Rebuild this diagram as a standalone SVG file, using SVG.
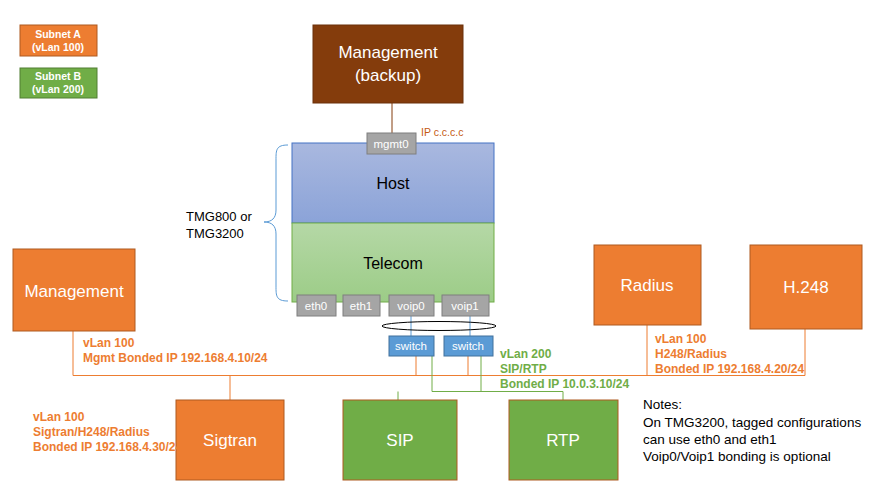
<svg xmlns="http://www.w3.org/2000/svg" width="869" height="500" viewBox="0 0 869 500">
<defs>
<linearGradient id="gh" x1="0" y1="0" x2="0" y2="1"><stop offset="0" stop-color="#a9b8df"/><stop offset="1" stop-color="#8ba3d8"/></linearGradient>
<linearGradient id="gt" x1="0" y1="0" x2="0" y2="1"><stop offset="0" stop-color="#b5d8a6"/><stop offset="1" stop-color="#9ccc87"/></linearGradient>
</defs>
<style>
text{font-family:"Liberation Sans",Arial,sans-serif}
.or{fill:#ed7d31;stroke:#ae5a21;stroke-width:1}
.gr{fill:#70ad47;stroke:#ae5a21;stroke-width:1}
.port{fill:#a5a5a5;stroke:#7f7f7f;stroke-width:1}
.sw{fill:#5b9bd5;stroke:#41719c;stroke-width:1}
.big{fill:#fff;font-size:17px;text-anchor:middle}
.pt{fill:#fff;font-size:11.5px;text-anchor:middle}
.lo{fill:#ed7d31;font-size:12px;font-weight:bold}
.lg{fill:#70ad47;font-size:12px;font-weight:bold}
.leg{fill:#fff;font-size:10.5px;font-weight:bold;text-anchor:middle}
.ol{stroke:#ed7d31;fill:none}
.gl{stroke:#70ad47;fill:none}
</style>
<g id="legendA"><rect x="20" y="25" width="77" height="31" class="or"/><text class="leg" x="58" y="38">Subnet A</text><text class="leg" x="58" y="51">(vLan 100)</text></g>
<g id="legendB"><rect x="20" y="68" width="77" height="30" fill="#70ad47" stroke="#507e32"/><text class="leg" x="58" y="80">Subnet B</text><text class="leg" x="58" y="93">(vLan 200)</text></g>
<g id="connectors">
<line x1="392" y1="103" x2="392" y2="133" stroke="#843c0c"/>
<path class="ol" d="M73 331V375.5H805M230 375.5V400M416 356V375.5M468 356V375.5M647 325V375.5M805 329V375.5"/>
<path class="gl" d="M432 356V391.5H563V400M481 356V391.5M398 391.5V400"/>
<line x1="411" y1="316" x2="411" y2="336" stroke="#5b9bd5"/>
<line x1="470" y1="316" x2="470" y2="336" stroke="#5b9bd5"/>
<ellipse cx="439" cy="326" rx="57" ry="4.5" fill="none" stroke="#000"/>
<path d="M288 145C276 145 276 150 276 160V210C276 218 272 222 264 222C272 222 276 226 276 234V286C276 296 276 301 288 301" fill="none" stroke="#5b9bd5"/>
</g>
<g id="backup"><rect x="313" y="25" width="150" height="78" fill="#843c0c" stroke="#6b300a"/><text class="big" x="388" y="58">Management</text><text class="big" x="388" y="81">(backup)</text></g>
<g id="tmg">
<rect x="292" y="143" width="202" height="80" fill="url(#gh)" stroke="#4472c4"/>
<rect x="292" y="223" width="202" height="79" fill="url(#gt)" stroke="#70ad47"/>
<text x="393" y="189" font-size="16" text-anchor="middle" fill="#000">Host</text>
<text x="393" y="269" font-size="16" text-anchor="middle" fill="#000">Telecom</text>
<text x="186" y="221" font-size="13" fill="#000">TMG800  or</text>
<text x="186" y="238" font-size="13" fill="#000">TMG3200</text>
</g>
<g id="mgmt0"><rect x="367" y="133" width="49" height="21" class="port"/><text class="pt" x="391" y="148">mgmt0</text><text x="421" y="136" font-size="10.5" fill="#c55a11">IP c.c.c.c</text></g>
<g id="eth0"><rect x="297" y="295" width="39" height="21" class="port"/><text class="pt" x="316" y="310">eth0</text></g>
<g id="eth1"><rect x="343" y="295" width="37" height="21" class="port"/><text class="pt" x="361" y="310">eth1</text></g>
<g id="voip0"><rect x="389" y="295" width="45" height="21" class="port"/><text class="pt" x="411" y="310">voip0</text></g>
<g id="voip1"><rect x="442" y="295" width="47" height="21" class="port"/><text class="pt" x="465" y="310">voip1</text></g>
<g id="switch1"><rect x="389" y="336" width="45" height="20" class="sw"/><text class="pt" x="411" y="350">switch</text></g>
<g id="switch2"><rect x="444" y="336" width="49" height="20" class="sw"/><text class="pt" x="468" y="350">switch</text></g>
<g id="management"><rect x="13" y="249" width="122" height="82" class="or"/><text class="big" x="74" y="297">Management</text></g>
<g id="radius"><rect x="594" y="245" width="107" height="80" class="or"/><text class="big" x="647" y="291">Radius</text></g>
<g id="h248"><rect x="750" y="245" width="112" height="84" class="or"/><text class="big" x="806" y="293">H.248</text></g>
<g id="sigtran"><rect x="176" y="400" width="108" height="80" class="or"/><text class="big" x="230" y="446">Sigtran</text></g>
<g id="sip"><rect x="343" y="400" width="114" height="80" class="gr"/><text class="big" x="400" y="446">SIP</text></g>
<g id="rtp"><rect x="509" y="400" width="109" height="80" class="gr"/><text class="big" x="563" y="446">RTP</text></g>
<g id="labels">
<text class="lo" x="83" y="347">vLan 100</text><text class="lo" x="83" y="362">Mgmt Bonded IP 192.168.4.10/24</text>
<text class="lo" x="33" y="421">vLan 100</text><text class="lo" x="33" y="436">Sigtran/H248/Radius</text><text class="lo" x="33" y="451">Bonded IP 192.168.4.30/24</text>
<text class="lo" x="655" y="343">vLan 100</text><text class="lo" x="655" y="358">H248/Radius</text><text class="lo" x="655" y="373">Bonded IP 192.168.4.20/24</text>
<text class="lg" x="500" y="358">vLan 200</text><text class="lg" x="500" y="373">SIP/RTP</text><text class="lg" x="500" y="388">Bonded IP 10.0.3.10/24</text>
<g font-size="13.5" fill="#000"><text x="643" y="409">Notes:</text><text x="643" y="427">On TMG3200,  tagged configurations</text><text x="643" y="444">can use eth0 and eth1</text><text x="643" y="461">Voip0/Voip1 bonding is optional</text></g>
</g>
</svg>
